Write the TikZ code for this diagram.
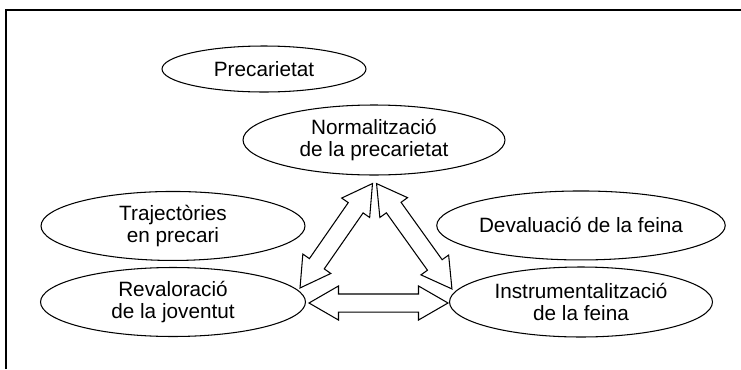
\documentclass[tikz,border=0pt]{standalone}
\usepackage{fontspec}
\setmainfont{Liberation Sans}
\usetikzlibrary{shapes.geometric,shapes.arrows,calc,positioning}

\tikzset{
  idea/.style={draw, ellipse, line width=0.6pt, inner sep=0pt, align=center,
    font=\fontsize{11.8}{13}\selectfont},
  link/.style={draw, double arrow, line width=0.6pt, inner xsep=0pt,
    inner ysep=0.17cm, double arrow head extend=0.16cm,
    double arrow tip angle=60},
}
% hollow two-headed arrow from #1 to #2
\newcommand{\link}[2]{%
  \path let \p1=(#1), \p2=(#2),
    \n1={atan2(\y2-\y1,\x2-\x1)}, \n2={veclen(\x2-\x1,\y2-\y1)} in
    node[link, minimum height=\n2, rotate=\n1] at ($(#1)!0.5!(#2)$) {};}

\begin{document}
\begin{tikzpicture}[x=0.02cm, y=-0.02cm]
\useasboundingbox (0,0) rectangle (741,369);
\draw[line width=1pt] (6,369) -- (6,10) -- (741,10);

\node[idea, minimum width=4.08cm, minimum height=0.92cm] (prec) at (264,69) {Precarietat};
\node[idea, minimum width=5.24cm, minimum height=1.40cm] (norm) at (374,140) {Normalització\\de la precarietat};
\node[idea, minimum width=5.30cm, minimum height=1.38cm] (reval) at (173,302) {Revaloració\\de la joventut};
\node[idea, minimum width=5.28cm, minimum height=1.38cm] (traj) [above=0.12cm of reval] {Trajectòries\\en precari};
\node[idea, minimum width=5.26cm, minimum height=1.40cm] (instr) at (581,302) {Instrumentalització\\de la feina};
\node[idea, minimum width=5.26cm, minimum height=1.38cm] (deval) [above=0.12cm of instr] {Devaluació de la feina};

% arrow ends
\coordinate (nl) at ($(norm.south)+(-1.5,8)$);
\coordinate (nr) at ($(norm.south)+(2.5,8)$);
\coordinate (rt) at ($(reval.east)+(-6,-14)$);
\coordinate (rr) at ($(reval.east)+(3,1)$);
\coordinate (it) at ($(instr.west)+(3,-13)$);
\coordinate (il) at ($(instr.west)+(-1,1)$);

\link{nl}{rt}
\link{nr}{it}
\link{rr}{il}
\end{tikzpicture}
\end{document}
